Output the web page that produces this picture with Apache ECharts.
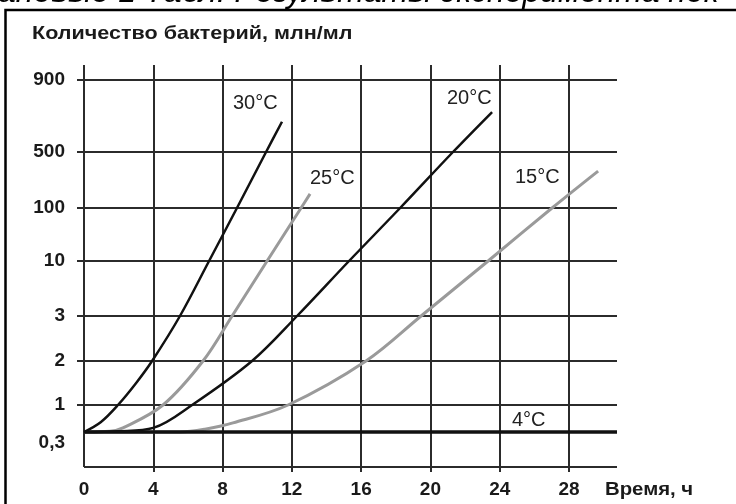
<!DOCTYPE html>
<html><head><meta charset="utf-8">
<script src="https://cdn.jsdelivr.net/npm/echarts@6/dist/echarts.min.js"></script>
<style>html,body{margin:0;padding:0;background:#fff}#c{width:736px;height:504px}</style>
</head><body><div id="c"></div>
<script>
// ---- data ----
const hours = [0, 4, 8, 12, 16, 20, 24, 28];
const yTickValues = [0.3, 1, 2, 3, 10, 100, 500, 900];
const yTickLabels = ['0,3', '1', '2', '3', '10', '100', '500', '900'];
const gridLevels = [1, 2, 3, 10, 100, 500, 900];
// custom (hand-drawn) scale: axis position of each tick value
const yTickStops = [35, 62, 106, 151, 206, 259, 315, 387];

const t30 = [0, 0.98, 1.96, 3.0, 3.93, 5.54, 7.22, 8.83, 10.51, 11.43];
const v30 = [0.3, 0.47, 1, 1.41, 2, 3, 10, 100, 500, 640];
const t25 = [0, 1.5, 2.25, 4.56, 6.87, 8.55, 10.57, 12.53, 13.05];
const v25 = [0.3, 0.31, 0.36, 1, 2, 3, 10, 100, 150];
const t20 = [0, 1.96, 4, 6.24, 9.7, 12.3, 15.3, 18.25, 21.3, 23.56];
const v20 = [0.3, 0.31, 0.36, 1, 2, 3, 10, 100, 500, 693];
const t15 = [0, 5.54, 6.98, 8.6, 11.78, 16.28, 19.46, 23.33, 27.02, 29.68];
const v15 = [0.3, 0.3, 0.34, 0.45, 1, 2, 3, 10, 100, 289];
const t4 = [0, 30.77];
const v4 = [0.3, 0.3];

// ---- scale ----
const xMin = -0.404, xMax = 30.77, yMin = -5, yMax = 402;
function yScale(v) {
  for (let i = 0; i < yTickValues.length - 1; i++) {
    const a = yTickValues[i], b = yTickValues[i + 1];
    if (v <= b || i === yTickValues.length - 2) {
      const f = (Math.log(v) - Math.log(a)) / (Math.log(b) - Math.log(a));
      return yTickStops[i] + f * (yTickStops[i + 1] - yTickStops[i]);
    }
  }
}
function pts(ts, vs) { return ts.map((t, i) => [t, yScale(vs[i])]); }

const gridV = hours.map(h => ({ coords: [[h, h === 0 ? 0 : yMin], [h, yMax]] }));
const gridH = gridLevels.map(v => ({ coords: [[xMin, yScale(v)], [xMax, yScale(v)]] }));
gridH.push({ coords: [[0, 0], [xMax, 0]] });

const chart = echarts.init(document.getElementById('c'), null, { renderer: 'canvas' });
const lbl = { fontFamily: 'Liberation Sans, Arial, sans-serif', fontWeight: 'bold', fontSize: 19, color: '#1a1a1a' };
const curveFont = '20px "Liberation Sans", Arial, sans-serif';
chart.setOption({
  animation: false,
  backgroundColor: '#fff',
  grid: { left: 77, right: 119, top: 65, bottom: 32 },
  xAxis: {
    type: 'value', min: xMin, max: xMax,
    axisLine: { show: false }, axisTick: { show: false }, splitLine: { show: false },
    axisLabel: Object.assign({ customValues: hours, margin: 8, formatter: v => String(v) }, lbl)
  },
  yAxis: {
    type: 'value', min: yMin, max: yMax,
    axisLine: { show: false }, axisTick: { show: false }, splitLine: { show: false },
    axisLabel: Object.assign({
      customValues: yTickStops, margin: 12,
      formatter: v => {
        const i = yTickStops.indexOf(v);
        return i === 0 ? '{low|' + yTickLabels[i] + '}' : yTickLabels[i];
      },
      rich: { low: Object.assign({ padding: [22, 0, 0, 0] }, lbl) }
    }, lbl)
  },
  series: [
    { type: 'lines', coordinateSystem: 'cartesian2d', data: gridV, lineStyle: { color: '#2b2b2b', width: 2, opacity: 1 }, silent: true },
    { type: 'lines', coordinateSystem: 'cartesian2d', data: gridH, lineStyle: { color: '#2b2b2b', width: 2, opacity: 1 }, silent: true },
    { type: 'line', data: pts(t15, v15), smooth: 0.35, symbol: 'none', lineStyle: { color: '#9a9a9a', width: 3 } },
    { type: 'line', data: pts(t25, v25), smooth: 0.35, symbol: 'none', lineStyle: { color: '#9a9a9a', width: 3 } },
    { type: 'line', data: pts(t20, v20), smooth: 0.35, symbol: 'none', lineStyle: { color: '#111', width: 2.5 } },
    { type: 'line', data: pts(t30, v30), smooth: 0.35, symbol: 'none', lineStyle: { color: '#111', width: 2.5 } },
    { type: 'line', data: pts(t4, v4), symbol: 'none', lineStyle: { color: '#111', width: 3.5 } }
  ],
  graphic: [
    { type: 'rect', shape: { x: 5.5, y: 10, width: 800, height: 600 }, style: { fill: 'none', stroke: '#000', lineWidth: 2.5 } },
    { type: 'text', x: -2, y: 9, style: { text: 'ановые 1 Табл. Результаты эксперимента пок', font: 'italic 32px "Liberation Sans", Arial, sans-serif', fill: '#000', verticalAlign: 'bottom' } },
    { type: 'text', x: 32, y: 34, scaleX: 1.135, style: { text: 'Количество бактерий, млн/мл', font: 'bold 19px "Liberation Sans", Arial, sans-serif', fill: '#1a1a1a', verticalAlign: 'middle' } },
    { type: 'text', x: 605, y: 490, scaleX: 1.07, style: { text: 'Время, ч', font: 'bold 19px "Liberation Sans", Arial, sans-serif', fill: '#1a1a1a', verticalAlign: 'middle' } },
    { type: 'text', x: 233, y: 103, style: { text: '30°C', font: curveFont, fill: '#222', verticalAlign: 'middle' } },
    { type: 'text', x: 310, y: 178, style: { text: '25°C', font: curveFont, fill: '#222', verticalAlign: 'middle' } },
    { type: 'text', x: 447, y: 98, style: { text: '20°C', font: curveFont, fill: '#222', verticalAlign: 'middle' } },
    { type: 'text', x: 515, y: 177, style: { text: '15°C', font: curveFont, fill: '#222', verticalAlign: 'middle' } },
    { type: 'text', x: 512, y: 420, style: { text: '4°C', font: curveFont, fill: '#222', verticalAlign: 'middle' } }
  ]
});
</script></body></html>
